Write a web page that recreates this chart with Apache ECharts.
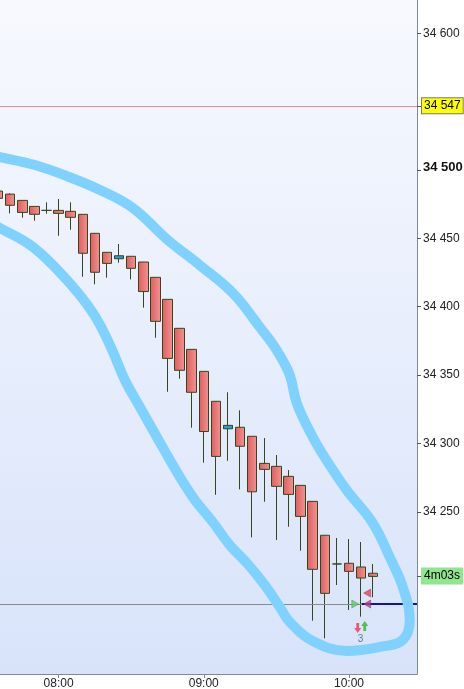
<!DOCTYPE html>
<html><head><meta charset="utf-8">
<script src="https://cdn.jsdelivr.net/npm/echarts@6/dist/echarts.min.js"></script>
<style>html,body{margin:0;padding:0;background:#fff}#c{width:464px;height:689px}</style>
</head><body><div id="c"></div>
<script>
// ---- data (5-minute candles) ----
const candleTimes = ['07:35','07:40','07:45','07:50','07:55','08:00','08:05','08:10','08:15','08:20','08:25','08:30','08:35','08:40','08:45','08:50','08:55','09:00','09:05','09:10','09:15','09:20','09:25','09:30','09:35','09:40','09:45','09:50','09:55','10:00','10:05','10:10'];
const openPrices  = [34484.6,34482.4,34477.8,34473.4,34470.5,34470.5,34469.8,34467.6,34453.7,34439.8,34435.1,34436.9,34432.7,34421.5,34405.4,34384.2,34368.8,34352.7,34330.8,34310.7,34311.8,34305.2,34285.4,34283.2,34275.9,34269.3,34257.6,34232.8,34211.8,34212.3,34209.6,34205.0];
const closePrices = [34479.3,34474.2,34469.0,34467.6,34470.5,34468.3,34465.4,34439.1,34425.2,34431.7,34437.3,34428.1,34411.1,34389.3,34362.2,34353.5,34337.4,34308.7,34290.5,34313.2,34297.9,34264.6,34281.0,34268.6,34262.7,34246.6,34207.9,34190.3,34211.8,34206.4,34201.5,34202.7];
const lowPrices   = [34478.8,34468.3,34465.1,34462.9,34468.0,34451.9,34456.3,34421.9,34416.4,34421.2,34432.2,34420.0,34399.3,34377.3,34337.8,34347.3,34311.5,34285.9,34262.4,34287.3,34266.4,34231.3,34257.3,34229.3,34239.0,34221.5,34170.3,34157.4,34196.4,34178.1,34173.2,34187.4];
const highPrices  = [34486.1,34483.0,34477.8,34473.4,34476.4,34478.8,34476.4,34467.6,34453.7,34439.8,34445.9,34436.9,34432.7,34421.5,34405.4,34384.2,34368.8,34352.7,34330.8,34337.4,34324.2,34305.2,34303.9,34291.5,34280.5,34269.3,34257.6,34232.8,34230.8,34230.0,34227.9,34211.8];

// axis ranges (minutes since midnight / price)
const timeRange = [455.8, 628.1];
const priceRange = [34131.3, 34624.4];
const timeLabels = ['08:00','09:00','10:00'];
const priceLabels = [34250,34300,34350,34400,34450,34500,34600];
const boldPrice = 34500;

// reference levels
const alertLevel = 34547;
const orderLevel = 34182.5;
const orderStart = 605.2;
const timerLevel = 34203;
const timerText = '4m03s';

// hand-drawn outline: [minutes, price]
const outlineTimes  = [451.6,455.8,470.2,483.4,497.1,510.7,525.1,538.3,552.0,563.1,570.1,575.5,578.4,585.0,592.0,599.0,609.8,616.8,622.2,625.1,622.2,612.7,599.0,585.0,575.5,571.4,565.2,557.8,550.7,543.7,536.3,530.9,526.0,520.6,513.6,507.4,501.2,494.2,483.4,469.4,455.8,451.6];
const outlinePrices = [34511.0,34509.5,34503.7,34495.6,34485.4,34472.2,34448.8,34430.5,34410.0,34385.2,34368.3,34350.1,34329.6,34304.7,34284.2,34265.9,34241.8,34216.9,34195.0,34170.8,34156.2,34151.1,34148.2,34155.4,34169.4,34180.3,34196.4,34212.5,34225.7,34242.5,34258.6,34273.2,34287.9,34304.7,34326.6,34346.4,34372.0,34395.4,34419.6,34443.7,34457.6,34461.3];

// trade markers
const markerTimes  = [602.6, 607.5, 607.5, 603.6, 606.5, 604.8];
const markerPrices = [34182.5, 34182.5, 34190.5, 34164.9, 34166.4, 34156.9];
const markerKinds  = ['buyTri','sellTriOnLine','sellTri','downArrow','upArrow','count'];
const markerCount = '3';

// ---- helpers ----
const toMin = s => { const p = s.split(':').map(Number); return p[0]*60 + p[1]; };
const fmtTime = v => String(Math.floor(v/60)).padStart(2,'0') + ':' + String(Math.round(v%60)).padStart(2,'0');
const fmtPrice = v => { const s = Math.round(v).toString(); return s.slice(0, s.length-3) + ' ' + s.slice(-3); };

const candleData = candleTimes.map((t,i) => [toMin(t), openPrices[i], closePrices[i], lowPrices[i], highPrices[i]]);
const outlineData = outlineTimes.map((t,i) => [t, outlinePrices[i]]);

const FONT = 'Liberation Sans, Arial, sans-serif';
const redFill = new echarts.graphic.LinearGradient(0,0,1,0,[{offset:0,color:'#E05C5C'},{offset:1,color:'#F29494'}]);

const markerStyle = {
  buyTri:        {symbol:'triangle', symbolRotate:-90, symbolSize:[8,7], itemStyle:{color:'#63C963', borderColor:'#3A8A3A', borderWidth:0.5}},
  sellTriOnLine: {symbol:'triangle', symbolRotate:90,  symbolSize:[8,7], itemStyle:{color:'#B8407E', borderColor:'#7A2050', borderWidth:0.5}},
  sellTri:       {symbol:'triangle', symbolRotate:90,  symbolSize:[8,7], itemStyle:{color:'#E4405A', borderColor:'#A02030', borderWidth:0.5}},
  downArrow:     {symbol:'path://M3,0 L7,0 L7,5 L10,5 L5,10 L0,5 L3,5 Z', symbolSize:[7,10], itemStyle:{color:'#E8384F'}},
  upArrow:       {symbol:'path://M3,10 L7,10 L7,5 L10,5 L5,0 L0,5 L3,5 Z', symbolSize:[7,10], itemStyle:{color:'#2DB52D'}},
  count:         {symbol:'circle', symbolSize:0, label:{show:true, position:'inside', formatter:markerCount, color:'#4A5A70', fontSize:10, fontFamily:FONT}}
};
const markerData = markerTimes.map((t,i) => Object.assign({value:[t, markerPrices[i]]}, markerStyle[markerKinds[i]]));

const boxLabel = (text, bg, border) => ({
  show:true, position:'end', distance:5, formatter:text, backgroundColor:bg, borderColor:border, borderWidth:1,
  padding:[2,2,1,2], color:'#000', fontSize:12, fontFamily:FONT
});

const chart = echarts.init(document.getElementById('c'), null, {renderer:'canvas'});
chart.setOption({
  animation: false,
  backgroundColor: '#ffffff',
  grid: {
    left: 0, top: 0, right: 47, bottom: 15, show: true, borderWidth: 0,
    outerBoundsMode: 'none', containLabel: false,
    backgroundColor: new echarts.graphic.LinearGradient(0,0,0,1,[{offset:0,color:'#F7F9FE'},{offset:1,color:'#D8E3FA'}])
  },
  xAxis: {
    type: 'value', min: timeRange[0], max: timeRange[1], position: 'bottom',
    axisLine: {show:true, onZero:false, lineStyle:{color:'#7C8A99', width:1}},
    axisTick: {show:true, customValues: timeLabels.map(toMin), length:4, lineStyle:{color:'#7C8A99'}},
    axisLabel: {customValues: timeLabels.map(toMin), formatter: v => fmtTime(v), color:'#222', fontSize:12, margin:4, fontFamily:FONT},
    splitLine: {show:false}
  },
  yAxis: {
    type: 'value', position: 'right', min: priceRange[0], max: priceRange[1], scale: true,
    axisLine: {show:true, onZero:false, lineStyle:{color:'#7C8A99', width:1}},
    axisTick: {show:true, customValues: priceLabels.concat([alertLevel, timerLevel]), length:4, lineStyle:{color:'#555'}},
    axisLabel: {
      customValues: priceLabels, margin: 6, color:'#222', fontSize:12, fontFamily:FONT,
      formatter: v => v === boldPrice ? '{b|' + fmtPrice(v) + '}' : fmtPrice(v),
      rich: {b: {fontWeight:'bold', fontSize:13, color:'#111', fontFamily:FONT, padding:[0,0,5,0]}}
    },
    splitLine: {show:false}
  },
  series: [
    {
      type: 'candlestick', clip: false, barWidth: 10, silent: true,
      data: candleData,
      itemStyle: {color:'#2C9AD6', color0: redFill, borderColor:'#34471C', borderColor0:'#34471C', borderWidth:1},
      markLine: {
        silent: true, symbol: 'none', animation: false,
        data: [
          [{coord:[timeRange[0], orderLevel], lineStyle:{color:'#8A8A8A', width:1, type:'solid'}, label:{show:false}}, {coord:[orderStart, orderLevel]}],
          [{coord:[orderStart, orderLevel], lineStyle:{color:'#12129A', width:2, type:'solid'}, label:{show:false}}, {coord:[timeRange[1], orderLevel]}]
        ]
      }
    },
    {
      type: 'line', data: outlineData, smooth: 0.4, symbol: 'none', silent: true, z: 5,
      lineStyle: {color:'#7FD1FF', width:10, cap:'round', join:'round'},
      markLine: {
        silent: true, symbol: 'none', animation: false,
        lineStyle: {color:'rgba(0,0,0,0)', width:0, type:'solid'},
        label: boxLabel(timerText, '#8FE68F', '#8FE68F'),
        data: [{yAxis: timerLevel}]
      }
    },
    {
      type: 'scatter', data: markerData, silent: true, z: 6,
      markLine: {
        silent: true, symbol: 'none', animation: false,
        data: [
          [{coord:[timeRange[0], alertLevel], lineStyle:{color:'#EC8C97', width:1, type:'solid'}, label: boxLabel(fmtPrice(alertLevel), '#FFFF00', '#7A7A7A')},
           {coord:[timeRange[1], alertLevel]}]
        ]
      }
    }
  ]
});
</script>
</body></html>
